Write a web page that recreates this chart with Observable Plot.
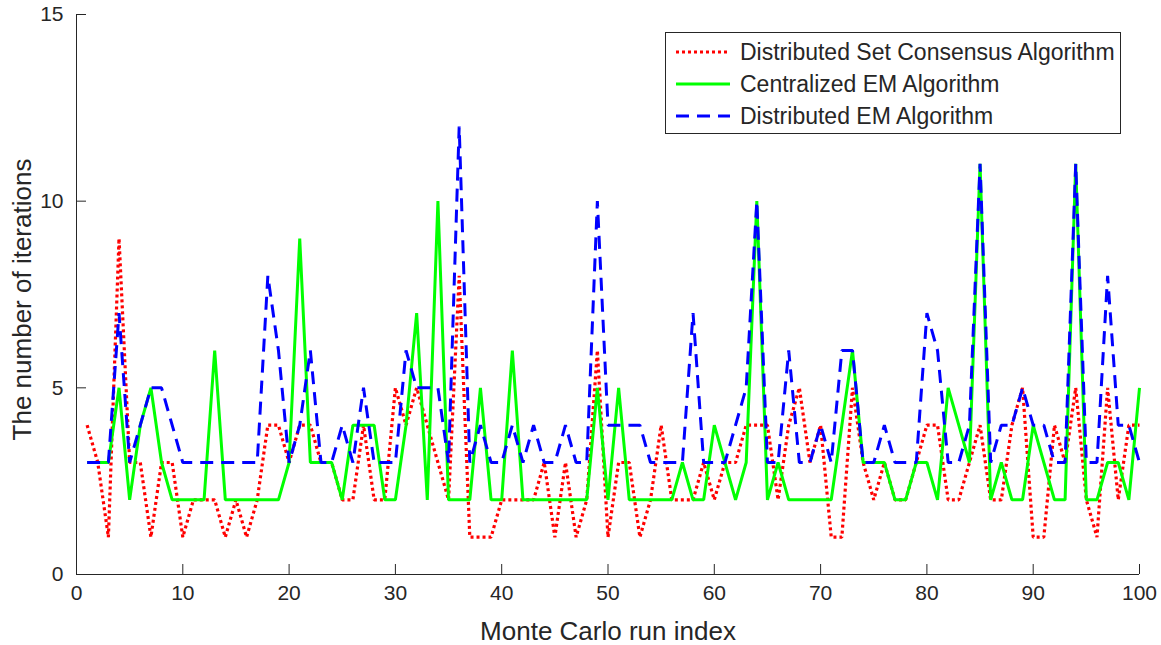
<!DOCTYPE html>
<html>
<head>
<meta charset="utf-8">
<script src="https://cdn.jsdelivr.net/npm/d3@7"></script>
<script src="https://cdn.jsdelivr.net/npm/@observablehq/plot@0.6"></script>
<style>
  html, body { margin: 0; padding: 0; background: #fff; }
  #chart svg { display: block; }
</style>
</head>
<body>
<div id="chart"></div>
<script>
// ---------- data ----------
const runIndex = [
  1,2,3,4,5,6,7,8,9,10,11,12,13,14,15,16,17,18,19,20,
  21,22,23,24,25,26,27,28,29,30,31,32,33,34,35,36,37,38,39,40,
  41,42,43,44,45,46,47,48,49,50,51,52,53,54,55,56,57,58,59,60,
  61,62,63,64,65,66,67,68,69,70,71,72,73,74,75,76,77,78,79,80,
  81,82,83,84,85,86,87,88,89,90,91,92,93,94,95,96,97,98,99,100
];

const setConsensusIters = [
  4,3,1,9,3,3,1,3,3,1,
  2,2,2,1,2,1,2,4,4,3,
  4,4,3,3,2,2,4,2,2,5,
  4,5,4,3,2,8,1,1,1,2,
  2,2,2,3,1,3,1,2,6,1,
  3,3,1,2,4,2,2,2,3,2,
  3,3,4,4,4,2,4,5,3,4,
  1,1,5,3,2,3,2,2,3,4,
  4,2,2,3,4,2,2,4,5,1,
  1,4,3,5,2,1,5,2,4,4
];

const centralizedEMIters = [
  3,3,3,5,2,4,5,3,2,2,
  2,2,6,2,2,2,2,2,2,3,
  9,3,3,3,2,4,4,4,2,2,
  4,7,2,10,2,2,2,5,2,2,
  6,2,2,2,2,2,2,2,5,2,
  5,2,2,2,2,2,3,2,2,4,
  3,2,3,10,2,3,2,2,2,2,
  2,4,6,3,3,3,2,2,3,3,
  2,5,4,3,11,2,3,2,2,4,
  3,2,2,11,2,2,3,3,2,5
];

const distributedEMIters = [
  3,3,3,7,3,4,5,5,4,3,
  3,3,3,3,3,3,3,8,6,3,
  4,6,3,3,4,3,5,3,3,3,
  6,5,5,5,3,12,3,4,3,3,
  4,3,4,3,3,4,3,3,10,4,
  4,4,4,3,3,3,3,7,3,3,
  3,4,5,10,3,3,6,3,3,4,
  3,6,6,3,3,4,3,3,3,7,
  6,3,3,4,11,3,4,4,5,4,
  4,3,3,11,3,3,8,4,4,3
];

const seriesNames = [
  "Distributed Set Consensus Algorithm",
  "Centralized EM Algorithm",
  "Distributed EM Algorithm"
];

const xTicks = [0,10,20,30,40,50,60,70,80,90,100];
const yTicks = [0,5,10,15];
const xLabel = "Monte Carlo run index";
const yLabel = "The number of iterations";

// ---------- styles ----------
const seriesStyles = [
  { stroke: "#ff0000", dash: "3,3", width: 3.2 },
  { stroke: "#00ff00", dash: null, width: 3 },
  { stroke: "#0000ff", dash: "13,8", width: 3 }
];
const seriesValues = [setConsensusIters, centralizedEMIters, distributedEMIters];

const tables = seriesValues.map((vals, s) =>
  runIndex.map((r, i) => ({ run: r, iters: vals[i], series: seriesNames[s] }))
);

const axisColor = "#262626";
const fontFam = "'Liberation Sans', Arial, Helvetica, sans-serif";
const W = 1161, H = 645;
const mL = 76, mR = 22, mT = 14, mB = 71;
const frameW = W - mL - mR, frameH = H - mT - mB;

const lineMarks = tables.map((t, s) =>
  Plot.line(t, {
    x: "run", y: "iters",
    stroke: seriesStyles[s].stroke,
    strokeWidth: seriesStyles[s].width,
    strokeDasharray: seriesStyles[s].dash,
    strokeLinejoin: "miter",
    strokeLinecap: "butt"
  })
);

const chart = Plot.plot({
  width: W, height: H,
  marginLeft: mL, marginRight: mR, marginTop: mT, marginBottom: mB,
  x: { domain: [0, 100] },
  y: { domain: [0, 15] },
  style: { fontFamily: fontFam, color: axisColor, background: "#fff", overflow: "visible" },
  marks: [
    Plot.axisX({ ticks: xTicks, tickSize: 0, tickPadding: 11, fontSize: 21, label: null, tickFormat: d => String(d) }),
    Plot.axisY({ ticks: yTicks, tickSize: 0, tickPadding: 13, fontSize: 21, label: null, tickFormat: d => String(d) }),
    Plot.tickX(xTicks, { x: d => d, insetTop: frameH - 10, stroke: axisColor, strokeWidth: 1 }),
    Plot.tickY(yTicks, { y: d => d, insetRight: frameW - 10, stroke: axisColor, strokeWidth: 1 }),
    ...lineMarks,
    Plot.ruleX([0], { stroke: axisColor, strokeWidth: 1 }),
    Plot.ruleY([0], { stroke: axisColor, strokeWidth: 1 }),
    Plot.text([xLabel], { text: d => d, frameAnchor: "bottom", textAnchor: "middle", lineAnchor: "middle", dy: 57, fontSize: 26, fill: axisColor }),
    Plot.text([yLabel], { text: d => d, frameAnchor: "left", textAnchor: "middle", lineAnchor: "middle", dx: -54, dy: 5, rotate: -90, fontSize: 26, fill: axisColor })
  ]
});

document.getElementById("chart").appendChild(chart);

// ---------- legend ----------
const svg = d3.select(chart.tagName.toLowerCase() === "svg" ? chart : chart.querySelector("svg"));
const lg = svg.append("g").attr("class", "legend").attr("text-anchor", "start");
const box = { x: 665, y: 32, w: 455, h: 101 };
lg.append("rect")
  .attr("x", box.x + 0.5).attr("y", box.y + 0.5)
  .attr("width", box.w).attr("height", box.h)
  .attr("fill", "#fff").attr("stroke", axisColor).attr("stroke-width", 1);
const rowY = [52, 84, 116];
seriesNames.forEach((name, i) => {
  lg.append("line")
    .attr("x1", 676).attr("x2", 730)
    .attr("y1", rowY[i]).attr("y2", rowY[i])
    .attr("stroke", seriesStyles[i].stroke)
    .attr("stroke-width", seriesStyles[i].width)
    .attr("stroke-dasharray", seriesStyles[i].dash);
  lg.append("text")
    .attr("x", 740).attr("y", rowY[i])
    .attr("dy", "0.35em")
    .attr("text-anchor", "start")
    .attr("font-size", 23)
    .attr("fill", axisColor)
    .attr("font-family", fontFam)
    .text(name);
});
</script>
</body>
</html>
